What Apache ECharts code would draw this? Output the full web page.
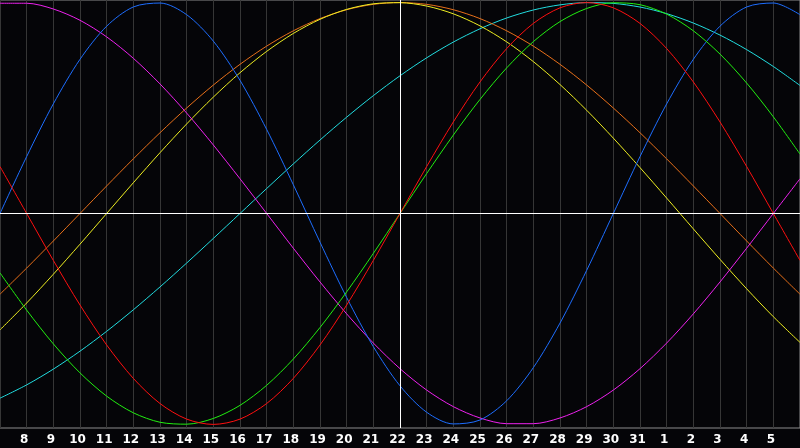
<!DOCTYPE html>
<html>
<head>
<meta charset="utf-8">
<script src="https://cdn.jsdelivr.net/npm/echarts@6/dist/echarts.min.js"></script>
<style>
html,body{margin:0;padding:0;background:#050508;}
#c{width:800px;height:448px;}
</style>
</head>
<body>
<div id="c"></div>
<script>
// day-of-month labels, Dec 7 .. Jan 6
var dayLabels = ['7','8','9','10','11','12','13','14','15','16','17','18','19','20','21','22','23','24','25','26','27','28','29','30','31','1','2','3','4','5','6'];
var todayLabel = '22';

var physical = [0,0.2698,0.5196,0.7308,0.8879,0.9791,0.9977,0.9423,0.8170,0.6311,0.3984,0.1362,-0.1362,-0.3984,-0.6311,-0.8170,-0.9423,-0.9977,-0.9791,-0.8879,-0.7308,-0.5196,-0.2698,0,0.2698,0.5196,0.7308,0.8879,0.9791,0.9977,0.9423];
var emotional = [0.2225,0,-0.2225,-0.4339,-0.6235,-0.7818,-0.9010,-0.9749,-1,-0.9749,-0.9010,-0.7818,-0.6235,-0.4339,-0.2225,0,0.2225,0.4339,0.6235,0.7818,0.9010,0.9749,1,0.9749,0.9010,0.7818,0.6235,0.4339,0.2225,0,-0.2225];
var intellectual = [-0.2817,-0.4582,-0.6182,-0.7557,-0.8660,-0.9450,-0.9898,-0.9989,-0.9718,-0.9096,-0.8146,-0.6901,-0.5406,-0.3717,-0.1893,0,0.1893,0.3717,0.5406,0.6901,0.8146,0.9096,0.9718,0.9989,0.9898,0.9450,0.8660,0.7557,0.6182,0.4582,0.2817];
var spiritual = [-0.8756,-0.8126,-0.7379,-0.6528,-0.5586,-0.4566,-0.3482,-0.2349,-0.1183,0,0.1183,0.2349,0.3482,0.4566,0.5586,0.6528,0.7379,0.8126,0.8756,0.9267,0.9646,0.9890,0.9996,0.9960,0.9786,0.9473,0.9028,0.8457,0.7767,0.6967,0.6068];
var intuitive = [0.9966,0.9966,0.9694,0.9158,0.8372,0.7357,0.6142,0.4759,0.3247,0.1646,0,-0.1646,-0.3247,-0.4759,-0.6142,-0.7357,-0.8372,-0.9158,-0.9694,-0.9966,-0.9966,-0.9694,-0.9158,-0.8372,-0.7357,-0.6142,-0.4759,-0.3247,-0.1646,0,0.1646];
var awareness = [-0.3827,-0.2588,-0.1305,0,0.1305,0.2588,0.3827,0.5,0.6088,0.7071,0.7934,0.8660,0.9239,0.9659,0.9914,1,0.9914,0.9659,0.9239,0.8660,0.7934,0.7071,0.6088,0.5,0.3827,0.2588,0.1305,0,-0.1305,-0.2588,-0.3827];
var aesthetic = [-0.5517,-0.4244,-0.2881,-0.1456,0,0.1456,0.2881,0.4244,0.5517,0.6672,0.7684,0.8535,0.9204,0.9675,0.9940,0.9993,0.9834,0.9465,0.8894,0.8136,0.7200,0.6112,0.4894,0.3572,0.2174,0.0730,-0.0730,-0.2174,-0.3572,-0.4894,-0.6112];

var chart = echarts.init(document.getElementById('c'), null, {renderer:'canvas'});

function line(name, data, color){
  return {name:name, type:'line', data:data, smooth:0.3, symbol:'none', z:3,
    lineStyle:{color:color, width:1}, itemStyle:{color:color}};
}

chart.setOption({
  animation:false,
  backgroundColor:'#050508',
  grid:{left:0, right:0, top:0, bottom:20, show:true, borderColor:'#8c8c8c', borderWidth:1, backgroundColor:'transparent'},
  xAxis:{
    type:'category', data:dayLabels, boundaryGap:false,
    axisLine:{show:true, lineStyle:{color:'#8c8c8c', width:1}},
    axisTick:{show:false},
    axisLabel:{
      color:'#ffffff', fontWeight:'bold', fontSize:12, fontFamily:'DejaVu Sans',
      margin:6, padding:[0,5,0,0],
      interval:function(i){ return i>0 && i<dayLabels.length-1; }
    },
    splitLine:{show:true, interval:0, lineStyle:{color:'#363636', width:1}}
  },
  yAxis:{
    type:'value', min:-1.017, max:1.012,
    axisLine:{show:false}, axisTick:{show:false}, axisLabel:{show:false}, splitLine:{show:false}
  },
  series:[
    {name:'ref', type:'line', data:[], z:1, silent:true,
      markLine:{silent:true, symbol:'none', label:{show:false},
        lineStyle:{color:'#ffffff', width:1, type:'solid'},
        data:[{yAxis:0},{xAxis:todayLabel}]}},
    line('spiritual', spiritual, '#22dde0'),
    line('awareness', awareness, '#e8701a'),
    line('aesthetic', aesthetic, '#eeee22'),
    line('intuitive', intuitive, '#ee22ee'),
    line('physical', physical, '#1e6eff'),
    line('intellectual', intellectual, '#22ee11'),
    line('emotional', emotional, '#ff1010')
  ]
});
</script>
</body>
</html>
